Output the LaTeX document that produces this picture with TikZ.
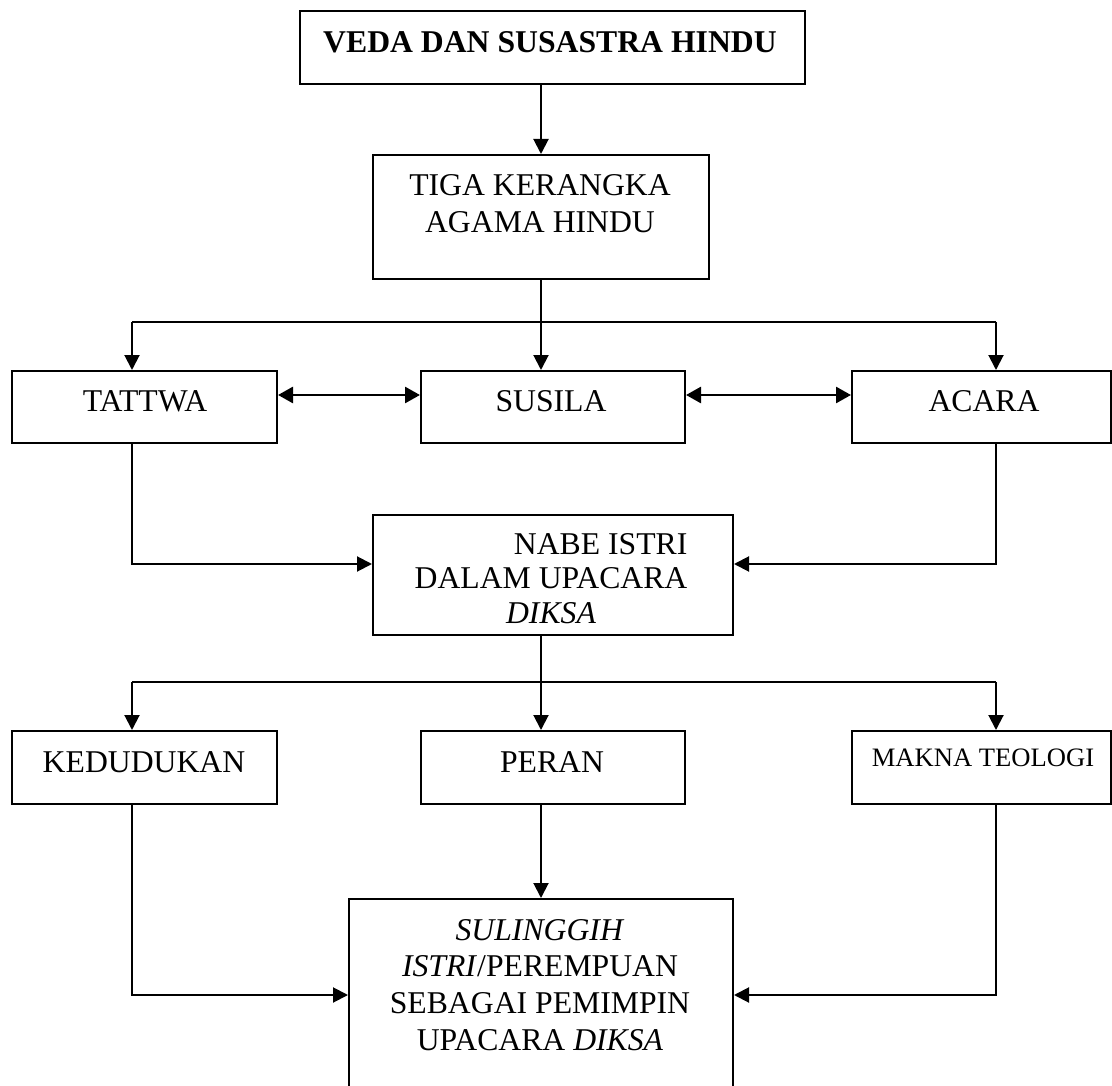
\documentclass[tikz,border=0pt]{standalone}
\usepackage{fontspec}
\setmainfont{Liberation Serif}
\usetikzlibrary{arrows.meta}
\begin{document}
\begin{tikzpicture}[x=1pt,y=-1pt,
  box/.style={draw, line width=2pt, anchor=north west, inner sep=0pt},
  lbl/.style={inner sep=0pt, font=\fontsize{31.7}{36.7}\selectfont, align=center},
  conn/.style={line width=2pt},
  arr/.style={conn, -{Triangle[length=15pt,width=15pt]}},
  dbl/.style={line width=2.7pt, {Triangle[length=15pt,width=16pt]}-{Triangle[length=15pt,width=16pt]}},
]
\path[use as bounding box, clip] (0,0) rectangle (1112,1086);
\fill[white] (0,0) rectangle (1112,1086);

% boxes
\node[box, minimum width=505pt, minimum height=73pt] (veda) at (299,10) {};
\node[box, minimum width=336pt, minimum height=124pt] (tiga) at (372,154) {};
\node[box, minimum width=265pt, minimum height=72pt] (tattwa) at (11,370) {};
\node[box, minimum width=264pt, minimum height=72pt] (susila) at (420,370) {};
\node[box, minimum width=259pt, minimum height=72pt] (acara) at (851,370) {};
\node[box, minimum width=360pt, minimum height=120pt] (nabe) at (372,514) {};
\node[box, minimum width=265pt, minimum height=73pt] (kedudukan) at (11,730) {};
\node[box, minimum width=264pt, minimum height=73pt] (peran) at (420,730) {};
\node[box, minimum width=259pt, minimum height=73pt] (makna) at (851,730) {};
\node[box, minimum width=384pt, minimum height=192pt] (sulinggih) at (348,898) {};

% connectors
\coordinate (hL) at (132,322);
\coordinate (hR) at (996,322);
\coordinate (gL) at (132,682);
\coordinate (gR) at (996,682);

\draw[arr] (veda.south -| tiga.north) -- (tiga.north);
\draw[conn] (hL) -- (hR);
\draw[arr] (tiga.south) -- (tiga.south |- susila.north);
\draw[arr] (hL) -- (hL |- tattwa.north);
\draw[arr] (hR) -- (hR |- acara.north);
\draw[dbl] ([yshift=12pt]tattwa.east) -- ([yshift=12pt]susila.west);
\draw[dbl] ([yshift=12pt]susila.east) -- ([yshift=12pt]acara.west);
\draw[arr] (hL |- tattwa.south) |- ([yshift=11pt]nabe.west);
\draw[arr] (hR |- acara.south) |- ([yshift=11pt]nabe.east);

\draw[conn] (gL) -- (gR);
\draw[arr] (tiga.south |- nabe.south) -- (tiga.south |- peran.north);
\draw[arr] (gL) -- (gL |- kedudukan.north);
\draw[arr] (gR) -- (gR |- makna.north);
\draw[arr] (gL |- kedudukan.south) |- (sulinggih.west);
\draw[arr] (tiga.south |- peran.south) -- (tiga.south |- sulinggih.north);
\draw[arr] (gR |- makna.south) |- (sulinggih.east);

% labels
\node[lbl] (vedaT) at (550,42) {\bfseries VEDA DAN SUSASTRA HINDU};
\node[lbl] (tigaT) at (540,203.5) {TIGA KERANGKA\\AGAMA HINDU};
\node[lbl] (tattwaT) at (145,401) {TATTWA};
\node[lbl] (susilaT) at (551,401) {SUSILA};
\node[lbl] (acaraT) at (984,401) {ACARA};
\node[lbl, font=\fontsize{31.7}{34.5}\selectfont] (nabeT) at (551,582) {\begin{tabular}{@{}r@{}}NABE ISTRI\\DALAM UPACARA\\\multicolumn{1}{@{}c@{}}{\itshape DIKSA}\end{tabular}};
\node[lbl] (kedT) at (144,762) {KEDUDUKAN};
\node[lbl] (peranT) at (552,762) {PERAN};
\node[lbl, font=\fontsize{26.6}{30}\selectfont] (maknaT) at (983,758) {MAKNA TEOLOGI};
\node[lbl] (sulT) at (540,985) {\textit{SULINGGIH}\\\textit{ISTRI}/PEREMPUAN\\SEBAGAI PEMIMPIN\\UPACARA \textit{DIKSA}};
\end{tikzpicture}
\end{document}
